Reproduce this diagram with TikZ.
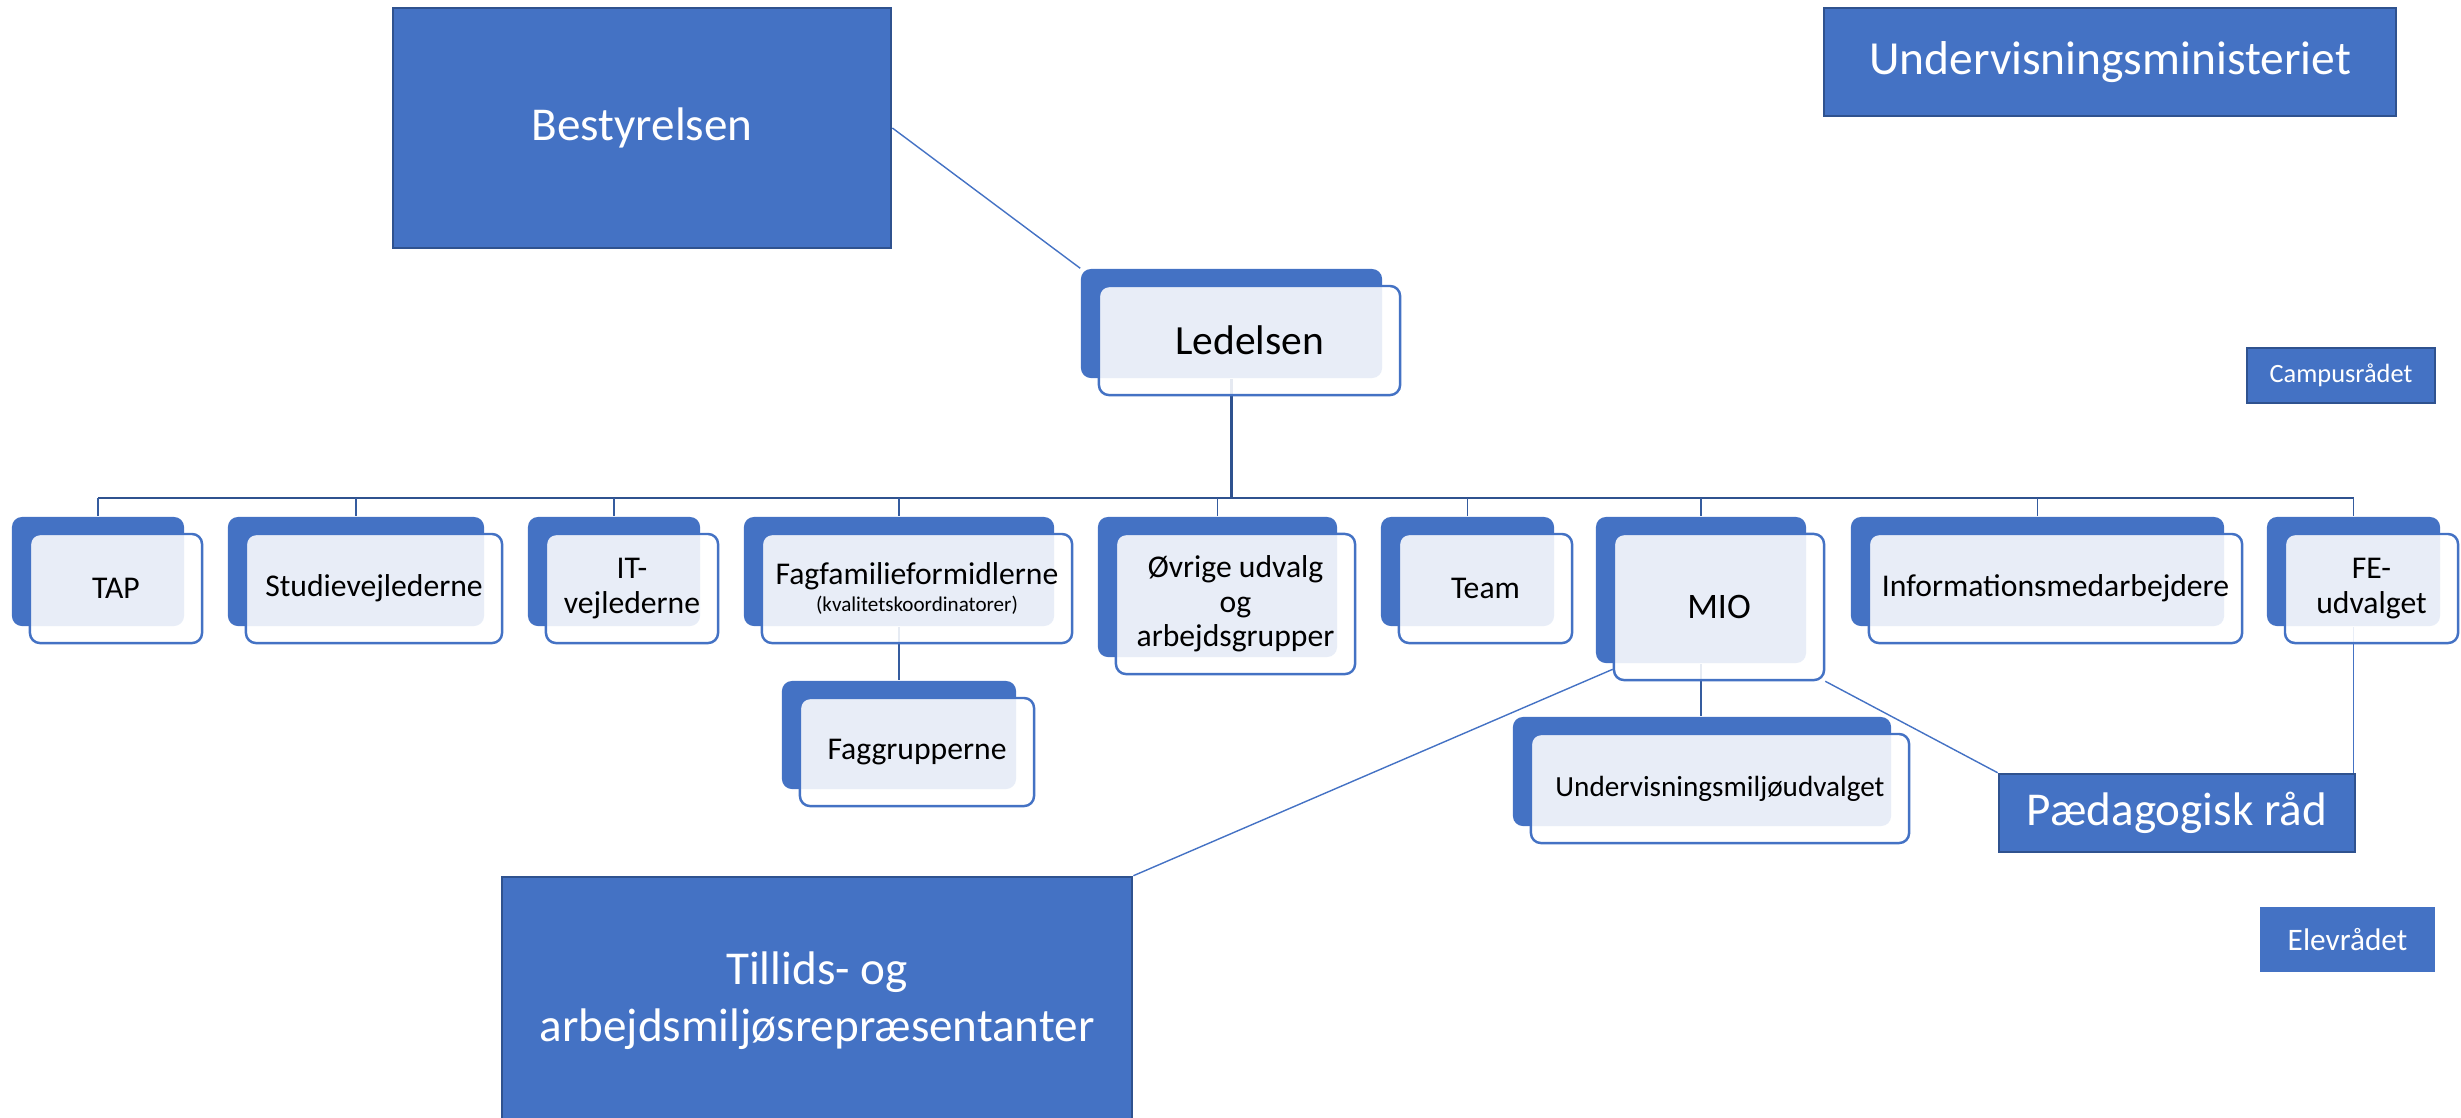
\documentclass[tikz,border=0pt]{standalone}
\usepackage{fontspec}
\setmainfont{Carlito}
\usetikzlibrary{calc,backgrounds}
\definecolor{obl}{HTML}{4472C4}
\definecolor{odk}{HTML}{2F528F}

\begin{document}
\begin{tikzpicture}[x=0.01cm,y=-0.01cm,
  backbox/.style={fill=obl,rounded corners=0.1cm,inner sep=0pt,minimum height=1.09cm},
  frontbox/.style={draw=obl,line width=0.7pt,fill=white,fill opacity=0.88,text opacity=1,rounded corners=0.1cm,inner sep=0pt,minimum height=1.09cm,align=center,font=\fontsize{9}{9.8}\selectfont},
  panel/.style={fill=obl,draw=odk,line width=0.7pt,text=white,inner sep=0pt,align=center},
  link/.style={obl,line width=0.4pt},
  busline/.style={odk,line width=0.8pt},
  tick/.style={odk!70!obl,line width=0.5pt}]
\useasboundingbox (0,0) rectangle (2461,1117);

% top
\node[panel,minimum width=4.98cm,minimum height=2.40cm,font=\fontsize{13.4}{16}\selectfont] (best) at (642,128) {Bestyrelsen};
\node[panel,minimum width=5.72cm,minimum height=1.08cm,font=\fontsize{13.5}{16}\selectfont] (uvm) at (2110,62) {Undervisningsministeriet};
\node[panel,minimum width=1.88cm,minimum height=0.55cm,font=\fontsize{7.5}{9}\selectfont] (campus) at (2341,375.5) {Campusrådet};
\node[backbox,minimum width=3.01cm] (ledB) at (1231.5,323.5) {};
\node[frontbox,minimum width=3.01cm,font=\fontsize{11.8}{14}\selectfont] (led) at ($(ledB)+(18,17)$) {Ledelsen};

% second row
\node[backbox,minimum width=1.72cm] (tapB) at (98,571.5) {};
\node[frontbox,minimum width=1.72cm] (tap) at ($(tapB)+(18,17)$) {TAP};
\node[backbox,minimum width=2.56cm] (studB) at (356,571.5) {};
\node[frontbox,minimum width=2.56cm] (stud) at ($(studB)+(18,17)$) {Studievejlederne};
\node[backbox,minimum width=1.72cm] (itB) at (614,571.5) {};
\node[frontbox,minimum width=1.72cm] (it) at ($(itB)+(18,17)$) {IT-\\vejlederne};
\node[backbox,minimum width=3.10cm] (fagB) at (899,571.5) {};
\node[frontbox,minimum width=3.10cm] (fag) at ($(fagB)+(18,17)$) {Fagfamilieformidlerne\\[-2pt]{\fontsize{6}{7}\selectfont(kvalitetskoordinatorer)}};
\node[backbox,minimum width=2.39cm,minimum height=1.40cm] (ovrB) at (1217.5,587) {};
\node[frontbox,minimum width=2.39cm,minimum height=1.40cm] (ovr) at ($(ovrB)+(18,17)$) {Øvrige udvalg\\og\\arbejdsgrupper};
\node[backbox,minimum width=1.73cm] (teamB) at (1467.5,571.5) {};
\node[frontbox,minimum width=1.73cm] (team) at ($(teamB)+(18,17)$) {Team};
\node[backbox,minimum width=2.10cm,minimum height=1.46cm] (mioB) at (1701,590) {};
\node[frontbox,minimum width=2.10cm,minimum height=1.46cm,font=\fontsize{10.2}{12}\selectfont] (mio) at ($(mioB)+(18,17)$) {MIO};
\node[backbox,minimum width=3.73cm] (infoB) at (2037.5,571.5) {};
\node[frontbox,minimum width=3.73cm] (info) at ($(infoB)+(18,17)$) {Informationsmedarbejdere};
\node[backbox,minimum width=1.73cm] (feB) at (2353.5,571.5) {};
\node[frontbox,minimum width=1.73cm] (fe) at ($(feB)+(18,17)$) {FE-\\udvalget};

% third row
\node[backbox,minimum width=2.34cm,minimum height=1.08cm] (faggB) at (899,735) {};
\node[frontbox,minimum width=2.34cm,minimum height=1.08cm] (fagg) at ($(faggB)+(18,17)$) {Faggrupperne};
\node[backbox,minimum width=3.78cm] (umuB) at (1702,771.5) {};
\node[frontbox,minimum width=3.78cm,font=\fontsize{8.3}{9.5}\selectfont] (umu) at ($(umuB)+(18,17)$) {Undervisningsmiljøudvalget};
\node[panel,minimum width=3.56cm,minimum height=0.78cm,font=\fontsize{13.4}{16}\selectfont] (paed) at (2177,813) {Pædagogisk råd};
\node[panel,draw=none,minimum width=1.75cm,minimum height=0.65cm,font=\fontsize{8.9}{10}\selectfont] (elev) at (2347.5,939.5) {Elevrådet};
\node[panel,minimum width=6.30cm,minimum height=2.48cm,font=\fontsize{13.4}{16.2}\selectfont] (trep) at (817,1001) {Tillids- og\\arbejdsmiljøsrepræsentanter};

% lines
\begin{scope}[on background layer]
\coordinate (bus) at (0,498);
\draw[busline] (ledB.south) -- (ledB |- bus);
\draw[busline] (tapB |- bus) -- (feB |- bus);
\draw[tick] (tapB |- bus) -- (tapB.north) (studB |- bus) -- (studB.north)
  (itB |- bus) -- (itB.north) (fagB |- bus) -- (fagB.north)
  (ovrB |- bus) -- (ovrB.north) (teamB |- bus) -- (teamB.north)
  (mioB |- bus) -- (mioB.north) (infoB |- bus) -- (infoB.north)
  (feB |- bus) -- (feB.north);
\draw[link] (best.east) -- (ledB.north west);
\draw[tick] (fagB.south) -- (faggB.north);
\draw[tick] (mioB.south) -- (mioB.south |- umuB.north);
\draw[link] ($(mio.south west)+(0,-12)$) -- (trep.north east);
\draw[link] (mio.south east) -- (paed.north west);
\draw[link] (feB.south) -- (feB.south |- paed.north);
\end{scope}
\end{tikzpicture}
\end{document}
